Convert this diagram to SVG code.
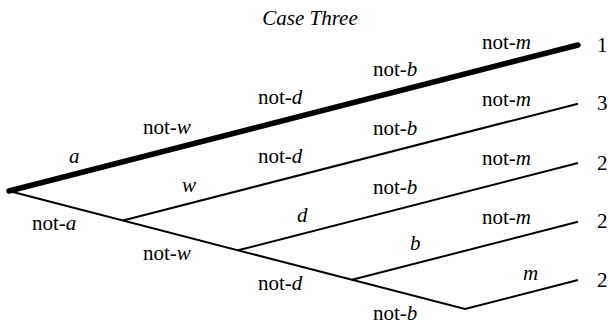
<svg xmlns="http://www.w3.org/2000/svg" width="609" height="328" viewBox="0 0 609 328">
<rect width="609" height="328" fill="#fff"/>
<text x="310" y="25" text-anchor="middle" font-family="Liberation Serif" font-size="21" font-style="italic">Case Three</text>
<g id="connectors" stroke="#000" fill="none">
<path stroke-width="2" d="M9,191 L465,309 L578,280"/>
<path stroke-width="2" d="M123,220.5 L578,103.7"/>
<path stroke-width="2" d="M238,250.3 L578,163"/>
<path stroke-width="2" d="M352,279.8 L578,221.8"/>
<path stroke-width="5.5" stroke-linecap="round" d="M9,191 L578,45"/>
</g>
<g id="labels">
<text x="482" y="49" font-family="Liberation Serif" font-size="21">not-<tspan font-style="italic">m</tspan></text>
<text x="373" y="76" font-family="Liberation Serif" font-size="21">not-<tspan font-style="italic">b</tspan></text>
<text x="258" y="104" font-family="Liberation Serif" font-size="21">not-<tspan font-style="italic">d</tspan></text>
<text x="143" y="134" font-family="Liberation Serif" font-size="21">not-<tspan font-style="italic">w</tspan></text>
<text x="69" y="163" font-family="Liberation Serif" font-size="21" font-style="italic">a</text>
<text x="482" y="106" font-family="Liberation Serif" font-size="21">not-<tspan font-style="italic">m</tspan></text>
<text x="373" y="135" font-family="Liberation Serif" font-size="21">not-<tspan font-style="italic">b</tspan></text>
<text x="258" y="163" font-family="Liberation Serif" font-size="21">not-<tspan font-style="italic">d</tspan></text>
<text x="182" y="192" font-family="Liberation Serif" font-size="21" font-style="italic">w</text>
<text x="482" y="165" font-family="Liberation Serif" font-size="21">not-<tspan font-style="italic">m</tspan></text>
<text x="373" y="194" font-family="Liberation Serif" font-size="21">not-<tspan font-style="italic">b</tspan></text>
<text x="297" y="222" font-family="Liberation Serif" font-size="21" font-style="italic">d</text>
<text x="482" y="224" font-family="Liberation Serif" font-size="21">not-<tspan font-style="italic">m</tspan></text>
<text x="410" y="250" font-family="Liberation Serif" font-size="21" font-style="italic">b</text>
<text x="523" y="280" font-family="Liberation Serif" font-size="21" font-style="italic">m</text>
<text x="32" y="230" font-family="Liberation Serif" font-size="21">not-<tspan font-style="italic">a</tspan></text>
<text x="143" y="260" font-family="Liberation Serif" font-size="21">not-<tspan font-style="italic">w</tspan></text>
<text x="258" y="290" font-family="Liberation Serif" font-size="21">not-<tspan font-style="italic">d</tspan></text>
<text x="373" y="320" font-family="Liberation Serif" font-size="21">not-<tspan font-style="italic">b</tspan></text>
</g>
<g id="outcomes">
<text x="597" y="52" font-family="Liberation Serif" font-size="21">1</text>
<text x="597" y="110" font-family="Liberation Serif" font-size="21">3</text>
<text x="597" y="170" font-family="Liberation Serif" font-size="21">2</text>
<text x="597" y="228" font-family="Liberation Serif" font-size="21">2</text>
<text x="597" y="287" font-family="Liberation Serif" font-size="21">2</text>
</g>
</svg>
